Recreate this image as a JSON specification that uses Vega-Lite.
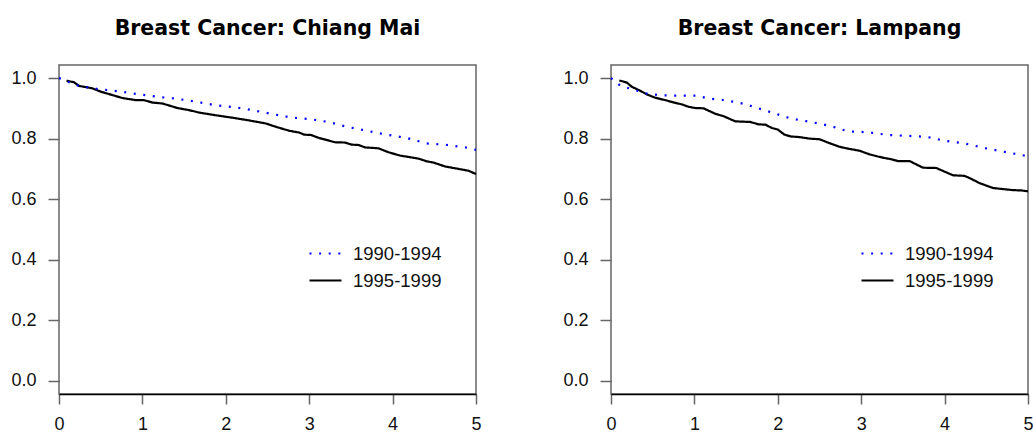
{
  "$schema": "https://vega.github.io/schema/vega-lite/v6.json",
  "background": "white",
  "padding": {"left": 10, "top": 17, "right": 0, "bottom": 0},
  "config": {
    "view": {"stroke": "#666666", "strokeWidth": 1.5},
    "font": "Liberation Sans",
    "axis": {"grid": false, "labelFont": "Liberation Sans", "labelFontSize": 18, "labelColor": "#111111", "tickColor": "#666666", "tickWidth": 1.5, "title": null}
  },
  "datasets": {
    "km": [
      {"region": "Chiang Mai", "period": "1995-1999", "t": 0.09, "s": 0.991},
      {"region": "Chiang Mai", "period": "1995-1999", "t": 0.18, "s": 0.986},
      {"region": "Chiang Mai", "period": "1995-1999", "t": 0.24, "s": 0.974},
      {"region": "Chiang Mai", "period": "1995-1999", "t": 0.40, "s": 0.966},
      {"region": "Chiang Mai", "period": "1995-1999", "t": 0.50, "s": 0.955},
      {"region": "Chiang Mai", "period": "1995-1999", "t": 0.60, "s": 0.947},
      {"region": "Chiang Mai", "period": "1995-1999", "t": 0.76, "s": 0.934},
      {"region": "Chiang Mai", "period": "1995-1999", "t": 0.92, "s": 0.927},
      {"region": "Chiang Mai", "period": "1995-1999", "t": 1.02, "s": 0.927},
      {"region": "Chiang Mai", "period": "1995-1999", "t": 1.12, "s": 0.919},
      {"region": "Chiang Mai", "period": "1995-1999", "t": 1.24, "s": 0.916},
      {"region": "Chiang Mai", "period": "1995-1999", "t": 1.42, "s": 0.901},
      {"region": "Chiang Mai", "period": "1995-1999", "t": 1.56, "s": 0.894},
      {"region": "Chiang Mai", "period": "1995-1999", "t": 1.68, "s": 0.886},
      {"region": "Chiang Mai", "period": "1995-1999", "t": 1.88, "s": 0.877},
      {"region": "Chiang Mai", "period": "1995-1999", "t": 2.08, "s": 0.869},
      {"region": "Chiang Mai", "period": "1995-1999", "t": 2.28, "s": 0.860},
      {"region": "Chiang Mai", "period": "1995-1999", "t": 2.48, "s": 0.850},
      {"region": "Chiang Mai", "period": "1995-1999", "t": 2.60, "s": 0.839},
      {"region": "Chiang Mai", "period": "1995-1999", "t": 2.76, "s": 0.826},
      {"region": "Chiang Mai", "period": "1995-1999", "t": 2.88, "s": 0.820},
      {"region": "Chiang Mai", "period": "1995-1999", "t": 2.94, "s": 0.813},
      {"region": "Chiang Mai", "period": "1995-1999", "t": 3.02, "s": 0.812},
      {"region": "Chiang Mai", "period": "1995-1999", "t": 3.12, "s": 0.802},
      {"region": "Chiang Mai", "period": "1995-1999", "t": 3.31, "s": 0.788},
      {"region": "Chiang Mai", "period": "1995-1999", "t": 3.43, "s": 0.787},
      {"region": "Chiang Mai", "period": "1995-1999", "t": 3.51, "s": 0.780},
      {"region": "Chiang Mai", "period": "1995-1999", "t": 3.59, "s": 0.779},
      {"region": "Chiang Mai", "period": "1995-1999", "t": 3.67, "s": 0.771},
      {"region": "Chiang Mai", "period": "1995-1999", "t": 3.83, "s": 0.768},
      {"region": "Chiang Mai", "period": "1995-1999", "t": 3.95, "s": 0.755},
      {"region": "Chiang Mai", "period": "1995-1999", "t": 4.09, "s": 0.744},
      {"region": "Chiang Mai", "period": "1995-1999", "t": 4.31, "s": 0.734},
      {"region": "Chiang Mai", "period": "1995-1999", "t": 4.41, "s": 0.725},
      {"region": "Chiang Mai", "period": "1995-1999", "t": 4.49, "s": 0.721},
      {"region": "Chiang Mai", "period": "1995-1999", "t": 4.63, "s": 0.708},
      {"region": "Chiang Mai", "period": "1995-1999", "t": 4.75, "s": 0.702},
      {"region": "Chiang Mai", "period": "1995-1999", "t": 4.91, "s": 0.694},
      {"region": "Chiang Mai", "period": "1995-1999", "t": 5.00, "s": 0.683},
      {"region": "Chiang Mai", "period": "1990-1994", "t": 0.00, "s": 1.000},
      {"region": "Chiang Mai", "period": "1990-1994", "t": 0.12, "s": 0.986},
      {"region": "Chiang Mai", "period": "1990-1994", "t": 0.24, "s": 0.974},
      {"region": "Chiang Mai", "period": "1990-1994", "t": 0.48, "s": 0.963},
      {"region": "Chiang Mai", "period": "1990-1994", "t": 0.72, "s": 0.956},
      {"region": "Chiang Mai", "period": "1990-1994", "t": 0.94, "s": 0.947},
      {"region": "Chiang Mai", "period": "1990-1994", "t": 1.18, "s": 0.938},
      {"region": "Chiang Mai", "period": "1990-1994", "t": 1.40, "s": 0.932},
      {"region": "Chiang Mai", "period": "1990-1994", "t": 1.64, "s": 0.922},
      {"region": "Chiang Mai", "period": "1990-1994", "t": 1.88, "s": 0.910},
      {"region": "Chiang Mai", "period": "1990-1994", "t": 2.12, "s": 0.903},
      {"region": "Chiang Mai", "period": "1990-1994", "t": 2.32, "s": 0.894},
      {"region": "Chiang Mai", "period": "1990-1994", "t": 2.56, "s": 0.881},
      {"region": "Chiang Mai", "period": "1990-1994", "t": 2.78, "s": 0.870},
      {"region": "Chiang Mai", "period": "1990-1994", "t": 3.02, "s": 0.864},
      {"region": "Chiang Mai", "period": "1990-1994", "t": 3.23, "s": 0.855},
      {"region": "Chiang Mai", "period": "1990-1994", "t": 3.45, "s": 0.839},
      {"region": "Chiang Mai", "period": "1990-1994", "t": 3.69, "s": 0.826},
      {"region": "Chiang Mai", "period": "1990-1994", "t": 3.93, "s": 0.813},
      {"region": "Chiang Mai", "period": "1990-1994", "t": 4.17, "s": 0.802},
      {"region": "Chiang Mai", "period": "1990-1994", "t": 4.41, "s": 0.784},
      {"region": "Chiang Mai", "period": "1990-1994", "t": 4.63, "s": 0.780},
      {"region": "Chiang Mai", "period": "1990-1994", "t": 4.87, "s": 0.771},
      {"region": "Chiang Mai", "period": "1990-1994", "t": 5.00, "s": 0.763},
      {"region": "Lampang", "period": "1995-1999", "t": 0.10, "s": 0.992},
      {"region": "Lampang", "period": "1995-1999", "t": 0.19, "s": 0.985},
      {"region": "Lampang", "period": "1995-1999", "t": 0.25, "s": 0.971},
      {"region": "Lampang", "period": "1995-1999", "t": 0.35, "s": 0.958},
      {"region": "Lampang", "period": "1995-1999", "t": 0.43, "s": 0.946},
      {"region": "Lampang", "period": "1995-1999", "t": 0.53, "s": 0.935},
      {"region": "Lampang", "period": "1995-1999", "t": 0.65, "s": 0.927},
      {"region": "Lampang", "period": "1995-1999", "t": 0.77, "s": 0.918},
      {"region": "Lampang", "period": "1995-1999", "t": 0.85, "s": 0.913},
      {"region": "Lampang", "period": "1995-1999", "t": 0.93, "s": 0.905},
      {"region": "Lampang", "period": "1995-1999", "t": 1.01, "s": 0.901},
      {"region": "Lampang", "period": "1995-1999", "t": 1.11, "s": 0.900},
      {"region": "Lampang", "period": "1995-1999", "t": 1.25, "s": 0.882},
      {"region": "Lampang", "period": "1995-1999", "t": 1.35, "s": 0.874},
      {"region": "Lampang", "period": "1995-1999", "t": 1.49, "s": 0.857},
      {"region": "Lampang", "period": "1995-1999", "t": 1.67, "s": 0.855},
      {"region": "Lampang", "period": "1995-1999", "t": 1.77, "s": 0.847},
      {"region": "Lampang", "period": "1995-1999", "t": 1.85, "s": 0.846},
      {"region": "Lampang", "period": "1995-1999", "t": 1.93, "s": 0.835},
      {"region": "Lampang", "period": "1995-1999", "t": 2.00, "s": 0.830},
      {"region": "Lampang", "period": "1995-1999", "t": 2.08, "s": 0.813},
      {"region": "Lampang", "period": "1995-1999", "t": 2.16, "s": 0.807},
      {"region": "Lampang", "period": "1995-1999", "t": 2.26, "s": 0.805},
      {"region": "Lampang", "period": "1995-1999", "t": 2.38, "s": 0.800},
      {"region": "Lampang", "period": "1995-1999", "t": 2.50, "s": 0.798},
      {"region": "Lampang", "period": "1995-1999", "t": 2.60, "s": 0.787},
      {"region": "Lampang", "period": "1995-1999", "t": 2.74, "s": 0.773},
      {"region": "Lampang", "period": "1995-1999", "t": 2.84, "s": 0.767},
      {"region": "Lampang", "period": "1995-1999", "t": 2.98, "s": 0.760},
      {"region": "Lampang", "period": "1995-1999", "t": 3.10, "s": 0.748},
      {"region": "Lampang", "period": "1995-1999", "t": 3.20, "s": 0.741},
      {"region": "Lampang", "period": "1995-1999", "t": 3.28, "s": 0.736},
      {"region": "Lampang", "period": "1995-1999", "t": 3.36, "s": 0.732},
      {"region": "Lampang", "period": "1995-1999", "t": 3.44, "s": 0.726},
      {"region": "Lampang", "period": "1995-1999", "t": 3.58, "s": 0.726},
      {"region": "Lampang", "period": "1995-1999", "t": 3.74, "s": 0.704},
      {"region": "Lampang", "period": "1995-1999", "t": 3.90, "s": 0.703},
      {"region": "Lampang", "period": "1995-1999", "t": 4.00, "s": 0.691},
      {"region": "Lampang", "period": "1995-1999", "t": 4.10, "s": 0.679},
      {"region": "Lampang", "period": "1995-1999", "t": 4.24, "s": 0.677},
      {"region": "Lampang", "period": "1995-1999", "t": 4.32, "s": 0.667},
      {"region": "Lampang", "period": "1995-1999", "t": 4.42, "s": 0.653},
      {"region": "Lampang", "period": "1995-1999", "t": 4.58, "s": 0.637},
      {"region": "Lampang", "period": "1995-1999", "t": 4.68, "s": 0.634},
      {"region": "Lampang", "period": "1995-1999", "t": 4.82, "s": 0.630},
      {"region": "Lampang", "period": "1995-1999", "t": 4.92, "s": 0.629},
      {"region": "Lampang", "period": "1995-1999", "t": 5.00, "s": 0.626},
      {"region": "Lampang", "period": "1990-1994", "t": 0.00, "s": 1.000},
      {"region": "Lampang", "period": "1990-1994", "t": 0.11, "s": 0.975},
      {"region": "Lampang", "period": "1990-1994", "t": 0.23, "s": 0.965},
      {"region": "Lampang", "period": "1990-1994", "t": 0.45, "s": 0.947},
      {"region": "Lampang", "period": "1990-1994", "t": 0.69, "s": 0.942},
      {"region": "Lampang", "period": "1990-1994", "t": 1.03, "s": 0.942},
      {"region": "Lampang", "period": "1990-1994", "t": 1.17, "s": 0.932},
      {"region": "Lampang", "period": "1990-1994", "t": 1.37, "s": 0.927},
      {"region": "Lampang", "period": "1990-1994", "t": 1.61, "s": 0.914},
      {"region": "Lampang", "period": "1990-1994", "t": 1.73, "s": 0.903},
      {"region": "Lampang", "period": "1990-1994", "t": 1.92, "s": 0.887},
      {"region": "Lampang", "period": "1990-1994", "t": 2.16, "s": 0.866},
      {"region": "Lampang", "period": "1990-1994", "t": 2.40, "s": 0.855},
      {"region": "Lampang", "period": "1990-1994", "t": 2.64, "s": 0.841},
      {"region": "Lampang", "period": "1990-1994", "t": 2.84, "s": 0.824},
      {"region": "Lampang", "period": "1990-1994", "t": 3.08, "s": 0.821},
      {"region": "Lampang", "period": "1990-1994", "t": 3.32, "s": 0.812},
      {"region": "Lampang", "period": "1990-1994", "t": 3.56, "s": 0.809},
      {"region": "Lampang", "period": "1990-1994", "t": 3.78, "s": 0.806},
      {"region": "Lampang", "period": "1990-1994", "t": 4.00, "s": 0.793},
      {"region": "Lampang", "period": "1990-1994", "t": 4.24, "s": 0.784},
      {"region": "Lampang", "period": "1990-1994", "t": 4.48, "s": 0.769},
      {"region": "Lampang", "period": "1990-1994", "t": 4.72, "s": 0.756},
      {"region": "Lampang", "period": "1990-1994", "t": 5.00, "s": 0.742}
    ]
  },
  "spacing": 135,
  "bounds": "flush",
  "resolve": {
    "scale": {"color": "independent", "strokeDash": "independent"},
    "legend": {"color": "independent", "strokeDash": "independent"}
  },
  "hconcat": [
    {
      "width": 417,
      "height": 329,
      "title": {"text": "Breast Cancer: Chiang Mai", "font": "DejaVu Sans", "fontSize": 20.5, "fontWeight": "bold", "color": "#000000", "baseline": "alphabetic", "offset": 10, "frame": "group", "anchor": "middle"},
      "data": {"name": "km"},
      "transform": [{"filter": "datum.region === 'Chiang Mai'"}],
      "mark": {"type": "line", "strokeWidth": 2.2, "strokeCap": "butt"},
      "encoding": {
        "x": {"field": "t", "type": "quantitative", "scale": {"domain": [0, 5], "nice": false, "zero": false}, "axis": {"values": [0, 1, 2, 3, 4, 5], "format": "d", "tickSize": 10, "labelPadding": 11, "domainColor": "#000000", "domainWidth": 1.5, "labelFlush": false}},
        "y": {"field": "s", "type": "quantitative", "scale": {"domain": [-0.043, 1.043], "nice": false, "zero": false}, "axis": {"values": [0, 0.2, 0.4, 0.6, 0.8, 1], "format": ".1f", "tickSize": 11, "labelPadding": 12, "domain": false}},
        "color": {"field": "period", "type": "nominal", "scale": {"domain": ["1990-1994", "1995-1999"], "range": ["#0000ff", "#000000"]},
          "legend": {"orient": "none", "legendX": 249, "legendY": 171, "title": null, "symbolType": "stroke", "symbolSize": 1024, "symbolStrokeWidth": 2.2, "labelFont": "Liberation Sans", "labelFontSize": 18.5, "labelColor": "#111111", "labelOffset": 10, "rowPadding": -2, "padding": 0,
            "encode": {"symbols": {"update": {"strokeDash": {"signal": "datum.value === '1990-1994' ? [2, 5.7] : [1, 0]"}, "strokeCap": {"value": "butt"}}}}}},
        "strokeDash": {"field": "period", "type": "nominal", "scale": {"domain": ["1990-1994", "1995-1999"], "range": [[2, 7.6], [1, 0]]},
          "legend": {"orient": "none", "legendX": 249, "legendY": 171, "title": null, "symbolType": "stroke", "symbolSize": 1024, "symbolStrokeWidth": 2.2, "labelFont": "Liberation Sans", "labelFontSize": 18.5, "labelColor": "#111111", "labelOffset": 10, "rowPadding": -2, "padding": 0,
            "encode": {"symbols": {"update": {"strokeDash": {"signal": "datum.value === '1990-1994' ? [2, 5.7] : [1, 0]"}, "strokeCap": {"value": "butt"}}}}}}
      }
    },
    {
      "width": 417,
      "height": 329,
      "title": {"text": "Breast Cancer: Lampang", "font": "DejaVu Sans", "fontSize": 20.5, "fontWeight": "bold", "color": "#000000", "baseline": "alphabetic", "offset": 10, "frame": "group", "anchor": "middle"},
      "data": {"name": "km"},
      "transform": [{"filter": "datum.region === 'Lampang'"}],
      "mark": {"type": "line", "strokeWidth": 2.2, "strokeCap": "butt"},
      "encoding": {
        "x": {"field": "t", "type": "quantitative", "scale": {"domain": [0, 5], "nice": false, "zero": false}, "axis": {"values": [0, 1, 2, 3, 4, 5], "format": "d", "tickSize": 10, "labelPadding": 11, "domainColor": "#000000", "domainWidth": 1.5, "labelFlush": false}},
        "y": {"field": "s", "type": "quantitative", "scale": {"domain": [-0.043, 1.043], "nice": false, "zero": false}, "axis": {"values": [0, 0.2, 0.4, 0.6, 0.8, 1], "format": ".1f", "tickSize": 11, "labelPadding": 12, "domain": false}},
        "color": {"field": "period", "type": "nominal", "scale": {"domain": ["1990-1994", "1995-1999"], "range": ["#0000ff", "#000000"]},
          "legend": {"orient": "none", "legendX": 249, "legendY": 171, "title": null, "symbolType": "stroke", "symbolSize": 1024, "symbolStrokeWidth": 2.2, "labelFont": "Liberation Sans", "labelFontSize": 18.5, "labelColor": "#111111", "labelOffset": 10, "rowPadding": -2, "padding": 0,
            "encode": {"symbols": {"update": {"strokeDash": {"signal": "datum.value === '1990-1994' ? [2, 5.7] : [1, 0]"}, "strokeCap": {"value": "butt"}}}}}},
        "strokeDash": {"field": "period", "type": "nominal", "scale": {"domain": ["1990-1994", "1995-1999"], "range": [[2, 7.6], [1, 0]]},
          "legend": {"orient": "none", "legendX": 249, "legendY": 171, "title": null, "symbolType": "stroke", "symbolSize": 1024, "symbolStrokeWidth": 2.2, "labelFont": "Liberation Sans", "labelFontSize": 18.5, "labelColor": "#111111", "labelOffset": 10, "rowPadding": -2, "padding": 0,
            "encode": {"symbols": {"update": {"strokeDash": {"signal": "datum.value === '1990-1994' ? [2, 5.7] : [1, 0]"}, "strokeCap": {"value": "butt"}}}}}}
      }
    }
  ]
}
